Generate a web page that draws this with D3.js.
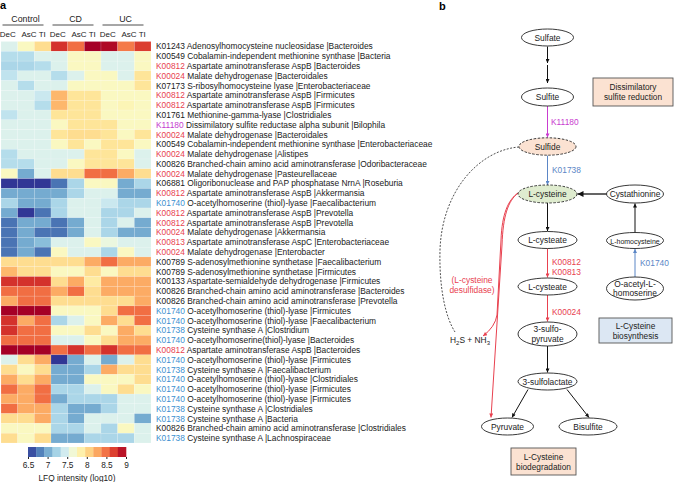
<!DOCTYPE html>
<html><head><meta charset="utf-8">
<script src="https://cdn.jsdelivr.net/npm/d3@7"></script>
<style>body{margin:0;background:#fff} svg{display:block;font-family:"Liberation Sans",Arial,Helvetica,sans-serif}</style>
</head><body><svg id="c" width="674" height="482"></svg>
<script>
// ---------- DATA ----------
const groups = ["Control", "CD", "UC"];
const sites = ["DeC", "AsC", "TI"];
const koIds = ["K01243","K00549","K00812","K00024","K07173","K00812","K00812","K01761","K11180","K00024",
 "K00549","K00024","K00826","K00024","K06881","K00812","K01740","K00812","K00812","K00024",
 "K00813","K00024","K00789","K00789","K00133","K00826","K00826","K01740","K01740","K01738",
 "K01740","K00812","K01740","K01738","K01740","K01740","K01740","K01738","K01738","K00826","K01738"];
const koNames = [
 "Adenosylhomocysteine nucleosidase |Bacteroides",
 "Cobalamin-independent methionine synthase |Bacteria",
 "Aspartate aminotransferase AspB |Bacteroides",
 "Malate dehydrogenase |Bacteroidales",
 "S-ribosylhomocysteine lyase |Enterobacteriaceae",
 "Aspartate aminotransferase AspB |Firmicutes",
 "Aspartate aminotransferase AspB |Firmicutes",
 "Methionine-gamma-lyase |Clostridiales",
 "Dissimilatory sulfite reductase alpha subunit |Bilophila",
 "Malate dehydrogenase |Bacteroidales",
 "Cobalamin-independent methionine synthase |Enterobacteriaceae",
 "Malate dehydrogenase |Alistipes",
 "Branched-chain amino acid aminotransferase |Odoribacteraceae",
 "Malate dehydrogenase |Pasteurellaceae",
 "Oligoribonuclease and PAP phosphatase NrnA |Roseburia",
 "Aspartate aminotransferase AspB |Akkermansia",
 "O-acetylhomoserine (thiol)-lyase |Faecalibacterium",
 "Aspartate aminotransferase AspB |Prevotella",
 "Aspartate aminotransferase AspB |Prevotella",
 "Malate dehydrogenase |Akkermansia",
 "Aspartate aminotransferase AspC |Enterobacteriaceae",
 "Malate dehydrogenase |Enterobacter",
 "S-adenosylmethionine synthetase |Faecalibacterium",
 "S-adenosylmethionine synthetase |Firmicutes",
 "Aspartate-semialdehyde dehydrogenase |Firmicutes",
 "Branched-chain amino acid aminotransferase |Bacteroides",
 "Branched-chain amino acid aminotransferase |Prevotella",
 "O-acetylhomoserine (thiol)-lyase |Firmicutes",
 "O-acetylhomoserine (thiol)-lyase |Faecalibacterium",
 "Cysteine synthase A |Clostridium",
 "O-acetylhomoserine(thiol)-lyase |Bacteroides",
 "Aspartate aminotransferase AspB |Bacteroides",
 "O-acetylhomoserine (thiol)-lyase |Firmicutes",
 "Cysteine synthase A |Faecalibacterium",
 "O-acetylhomoserine (thiol)-lyase |Clostridiales",
 "O-acetylhomoserine (thiol)-lyase |Firmicutes",
 "O-acetylhomoserine (thiol)-lyase |Firmicutes",
 "Cysteine synthase A |Clostridiales",
 "Cysteine synthase A |Bacteria",
 "Branched-chain amino acid aminotransferase |Clostridiales",
 "Cysteine synthase A |Lachnospiraceae"];
// pathway class of each KO: other / deg (L-cysteine degradation) / syn (biosynthesis) / dsr (sulfite reduction)
const koClass = ["other","other","deg","deg","other","deg","deg","other","dsr","deg",
 "other","deg","other","deg","other","deg","syn","deg","deg","deg",
 "deg","deg","other","other","other","other","other","syn","syn","syn",
 "syn","deg","syn","syn","syn","syn","syn","syn","syn","other","syn"];
// LFQ intensity (log10), columns: Control DeC AsC TI | CD DeC AsC TI | UC DeC AsC TI
const lfq = [
 [7.5,7.75,8.0,8.75,8.5,9.0,8.95,8.45,8.7],
 [7.3,7.3,7.5,7.5,7.75,7.75,7.5,7.5,7.75],
 [7.25,7.25,7.3,7.5,7.75,7.75,7.5,7.5,7.75],
 [7.35,7.5,7.5,7.3,7.5,7.75,7.75,7.5,7.95],
 [7.5,7.3,7.5,7.5,7.75,7.75,7.75,7.75,7.95],
 [7.5,7.5,7.4,8.2,7.95,7.95,7.75,7.75,7.75],
 [7.5,7.5,7.3,8.2,7.95,7.95,7.75,7.8,7.75],
 [7.35,7.5,7.5,7.95,7.95,7.95,7.75,7.75,7.75],
 [7.5,7.5,7.5,7.75,7.95,7.95,7.95,7.75,7.75],
 [7.5,7.5,7.5,7.95,8.0,8.0,7.95,7.75,7.95],
 [7.5,7.5,7.5,7.75,7.95,7.75,7.95,7.95,7.75],
 [7.3,7.5,7.5,7.5,7.5,7.95,7.95,7.75,7.5],
 [7.3,7.3,7.5,7.5,7.75,7.95,7.95,7.95,7.5],
 [7.75,7.0,7.5,8.0,8.0,8.5,8.5,8.25,8.0],
 [6.5,6.5,6.5,6.75,7.25,7.75,7.75,7.0,7.25],
 [7.0,7.0,7.0,7.0,7.25,7.5,7.5,7.0,7.0],
 [7.25,7.0,7.0,7.25,7.5,7.5,7.4,7.25,7.25],
 [7.0,6.5,6.75,7.25,7.5,7.5,7.25,7.25,7.5],
 [6.75,7.0,7.0,6.75,7.0,7.5,7.25,7.5,7.0],
 [6.75,7.0,6.75,6.75,7.0,7.5,7.25,7.0,7.0],
 [6.75,7.0,7.1,7.5,7.5,7.75,7.6,7.5,7.5],
 [6.75,7.0,6.75,7.75,7.5,7.5,7.25,7.75,7.5],
 [8.0,8.0,8.0,8.0,8.0,8.25,8.5,8.25,8.25],
 [8.2,8.0,8.0,7.75,7.75,8.0,7.75,8.0,8.0],
 [8.75,8.75,8.75,8.0,8.25,7.9,8.25,8.25,8.25],
 [8.5,8.5,8.5,8.25,8.5,8.0,8.25,8.25,8.25],
 [8.25,8.5,8.5,8.0,8.0,8.0,8.0,8.0,8.25],
 [9.0,9.0,9.0,7.75,7.75,7.75,8.0,8.5,8.5],
 [8.75,8.25,8.5,7.25,7.5,7.75,8.25,8.0,8.5],
 [8.75,8.5,8.5,7.75,7.75,8.0,7.75,8.25,8.0],
 [8.5,8.5,8.5,7.5,7.5,7.75,8.0,8.25,8.25],
 [9.0,9.0,9.0,8.5,8.75,8.5,8.75,8.5,8.5],
 [7.5,8.0,8.25,6.5,7.0,7.5,7.0,7.5,8.0],
 [8.0,7.75,8.0,7.0,7.0,7.25,8.25,8.0,8.0],
 [8.25,8.0,8.25,7.0,7.0,7.75,7.75,7.75,8.0],
 [8.5,8.25,8.5,7.25,7.25,7.5,7.75,8.0,7.75],
 [8.25,8.25,8.5,7.0,7.25,7.25,7.25,7.5,7.5],
 [8.5,8.25,8.25,7.25,7.0,7.0,7.25,7.5,7.5],
 [8.0,8.0,8.25,7.25,7.0,7.5,7.5,7.5,7.0],
 [7.75,7.75,7.75,7.25,7.25,7.5,7.25,7.75,7.5],
 [8.0,7.75,8.0,7.0,7.0,7.25,7.25,7.25,7.5]];
const legendTicks = [6.5, 7, 7.5, 8, 8.5, 9];
const legendTitle = "LFQ intensity (log10)";

// ---------- STYLE ----------
const classColor = {other:"#1a1a1a", deg:"#e8414f", syn:"#3b8fd0", dsr:"#c53ccf"};
const svg = d3.select("#c");
const color = d3.scaleSequential(t => d3.interpolateRdYlBu(1 - t)).domain([6.5, 9]).clamp(true);

// ---------- PANEL A ----------
svg.append("text").attr("x",0).attr("y",9).attr("font-size",11).attr("font-weight","bold").text("a");
const cols = groups.flatMap(g => sites.map(s => g + "|" + s));
const x = d3.scaleBand().domain(cols).range([1, 151]);
const rows = d3.range(koIds.length);
const y = d3.scaleBand().domain(rows).range([41.5, 443]);

const cells = [];
lfq.forEach((r, i) => r.forEach((v, j) => cells.push({i, c: cols[j], v})));
svg.append("g").selectAll("rect").data(cells).join("rect")
  .attr("x", d => x(d.c)).attr("y", d => y(d.i))
  .attr("width", x.bandwidth()).attr("height", y.bandwidth())
  .attr("fill", d => color(d.v))
  .attr("stroke", "#ffffff").attr("stroke-opacity", 0.35).attr("stroke-width", 0.4);

// group headers
groups.forEach(g => {
  const x0 = x(g + "|" + sites[0]), x1 = x(g + "|" + sites[2]) + x.bandwidth();
  svg.append("text").attr("x", (x0 + x1) / 2 - 0.5).attr("y", 21.5).attr("text-anchor","middle")
    .attr("font-size", 8.8).attr("fill","#222").text(g);
  svg.append("line").attr("x1", x0 + 1.5).attr("x2", x1 - 7.5).attr("y1", 25).attr("y2", 25)
    .attr("stroke","#222").attr("stroke-width",0.8);
});
const siteShift = {DeC:-1.5, AsC:3, TI:-0.4};
svg.append("g").selectAll("text").data(cols).join("text")
  .attr("x", d => x(d) + x.bandwidth() / 2 + siteShift[d.split("|")[1]]).attr("y", 36.5).attr("text-anchor","middle")
  .attr("font-size", 8).attr("fill","#222").text(d => d.split("|")[1]);

// row labels
const lab = svg.append("g").selectAll("text").data(rows).join("text")
  .attr("x", 156).attr("y", d => y(d) + y.bandwidth() / 2 + 3).attr("font-size", 8.4);
lab.append("tspan").attr("fill", d => classColor[koClass[d]]).text(d => koIds[d]);
lab.append("tspan").attr("fill", "#1a1a1a").text(d => " " + koNames[d]);

// color legend
const lx = d3.scaleLinear().domain([6.5, 9]).range([28, 126]);
const nb = 12, step = (9 - 6.5) / nb;
svg.append("g").selectAll("rect").data(d3.range(nb)).join("rect")
  .attr("x", k => lx(6.5 + k * step)).attr("y", 447)
  .attr("width", lx(6.5 + step) - lx(6.5) + 0.3).attr("height", 10)
  .attr("fill", k => color(6.5 + (k + 0.5) * step));
const ax = svg.append("g").attr("transform","translate(0,457)")
  .call(d3.axisBottom(lx).tickValues(legendTicks).tickSize(2).tickFormat(d3.format("")));
ax.select(".domain").remove();
ax.selectAll("line").attr("stroke","#222");
ax.selectAll("text").attr("font-size", 8.3).attr("fill","#222").attr("dy","0.75em")
  .attr("font-family",'"Liberation Sans",Arial,sans-serif');
svg.append("text").attr("x", 77).attr("y", 480.5).attr("text-anchor","middle")
  .attr("font-size", 8.3).attr("fill","#222").text(legendTitle);

// ---------- PANEL B ----------
svg.append("text").attr("x",439).attr("y",10).attr("font-size",11).attr("font-weight","bold").text("b");
const defs = svg.append("defs");
function mk(id, col, w, h) {
  defs.append("marker").attr("id", id).attr("viewBox","0 0 10 10").attr("refX",10).attr("refY",5)
    .attr("markerWidth", w).attr("markerHeight", h).attr("markerUnits","userSpaceOnUse").attr("orient","auto")
    .append("path").attr("d","M0,0L10,5L0,10z").attr("fill", col);
}
const cBlack = "#111", cRed = "#e8414f", cBlue = "#5b86c6", cMag = "#c93ccf";
mk("ab", cBlack, 5, 4); mk("abB", cBlack, 7, 6); mk("ar", cRed, 5, 4); mk("abl", cBlue, 5, 4); mk("am", cMag, 5, 4);

// boxes
const boxes = [
  {x:593, y:78, w:80, h:28, fill:"#fbe2d2", lines:["Dissimilatory","sulfite reduction"]},
  {x:599, y:318, w:73, h:25, fill:"#dce7f3", lines:["L-Cysteine","biosynthesis"]},
  {x:511, y:448, w:65, h:27, fill:"#fbe2d2", lines:["L-Cysteine","biodegradation"]}];
boxes.forEach(b => {
  svg.append("rect").attr("x", b.x).attr("y", b.y).attr("width", b.w).attr("height", b.h)
    .attr("fill", b.fill).attr("stroke","#555").attr("stroke-width",0.9);
  b.lines.forEach((t, k) => svg.append("text").attr("x", b.x + b.w / 2)
    .attr("y", b.y + b.h / 2 + (k - (b.lines.length - 1) / 2) * 10 + 3)
    .attr("text-anchor","middle").attr("font-size", 8.3).attr("fill","#222").text(t));
});

// links
const links = [
  {d:"M547.5,46.5 L547.5,63", m:"ab", c:cBlack},
  {d:"M547.5,65 L547.5,83", m:"ab", c:cBlack},
  {d:"M547.5,106 L547.5,137.5", m:"am", c:cMag},
  {d:"M547.5,155.5 L547.5,185", m:"abl", c:cBlue},
  {d:"M607,194 L577.5,194", m:"abB", c:cBlack, w:1.3},
  {d:"M635,232.5 L635,203.5", m:"ab", c:cBlack},
  {d:"M547.5,203 L547.5,231", m:"ab", c:cBlack},
  {d:"M547.5,248.5 L547.5,277.5", m:"ar", c:cRed},
  {d:"M635,277 L635,249", m:"abl", c:cBlue},
  {d:"M547.5,295 L547.5,321.5", m:"ar", c:cRed},
  {d:"M547.5,346 L547.5,372.5", m:"ab", c:cBlack},
  {d:"M528,389.5 L512,417.5", m:"ab", c:cBlack},
  {d:"M567,389.5 L589,417.5", m:"ab", c:cBlack},
  {d:"M518,193 C508,200 502,214 501,240 L497,315 Q495,327 483,336", m:"ar", c:cRed},
  {d:"M518,193 C508,201 503,216 502,245 L491,417.5", m:"ar", c:cRed}];
links.forEach(l => svg.append("path").attr("d", l.d).attr("fill","none").attr("stroke", l.c)
  .attr("stroke-width", l.w || 1).attr("marker-end", `url(#${l.m})`));
svg.append("path").attr("d","M519,147 C480,150 442,190 440,250 C439,290 446,318 455,332")
  .attr("fill","none").attr("stroke","#222").attr("stroke-width",0.8).attr("stroke-dasharray","2,1.5");

// nodes
const nodes = [
  {cx:547.5, cy:37.5, rx:26, ry:8.5, lines:["Sulfate"]},
  {cx:547.5, cy:97, rx:26, ry:9, lines:["Sulfite"]},
  {cx:547.5, cy:146.5, rx:28.5, ry:8.7, lines:["Sulfide"], fill:"#fbe2d2", dash:true},
  {cx:547.5, cy:194, rx:29.5, ry:9, lines:["L-cysteine"], fill:"#dfeccf", dash:true},
  {cx:635, cy:194, rx:28.5, ry:9, lines:["Cystathionine"]},
  {cx:547.5, cy:240, rx:29.5, ry:8.5, lines:["L-cysteate"]},
  {cx:635, cy:240.5, rx:28.5, ry:8, lines:["L-homocysteine"], fs:7},
  {cx:547.5, cy:286.5, rx:29.5, ry:8.5, lines:["L-cysteate"]},
  {cx:635, cy:288.5, rx:28.5, ry:11.5, lines:["O-acetyl-L-","homoserine"]},
  {cx:547.5, cy:334, rx:29.5, ry:12, lines:["3-sulfo-","pyruvate"]},
  {cx:547.5, cy:381.5, rx:29.5, ry:8.5, lines:["3-sulfolactate"]},
  {cx:507.5, cy:426.5, rx:26, ry:8.5, lines:["Pyruvate"]},
  {cx:588, cy:426.5, rx:29, ry:8.5, lines:["Bisulfite"]}];
nodes.forEach(n => {
  svg.append("ellipse").attr("cx", n.cx).attr("cy", n.cy).attr("rx", n.rx).attr("ry", n.ry)
    .attr("fill", n.fill || "#fff").attr("stroke","#222").attr("stroke-width",0.9)
    .attr("stroke-dasharray", n.dash ? "2.5,1.5" : null);
  n.lines.forEach((t, k) => svg.append("text").attr("x", n.cx)
    .attr("y", n.cy + (k - (n.lines.length - 1) / 2) * 9.5 + 3)
    .attr("text-anchor","middle").attr("font-size", n.fs || 8.4).attr("fill","#222").text(t));
});

// enzyme labels
const enz = [
  {x:551, y:125, t:"K11180", c:cMag},
  {x:552, y:173, t:"K01738", c:cBlue},
  {x:552, y:265, t:"K00812", c:cRed},
  {x:552, y:275, t:"K00813", c:cRed},
  {x:552, y:315, t:"K00024", c:cRed},
  {x:640, y:266, t:"K01740", c:cBlue}];
enz.forEach(e => svg.append("text").attr("x", e.x).attr("y", e.y).attr("font-size", 8.4)
  .attr("fill", e.c).text(e.t));
["(L-cysteine","desulfidase)"].forEach((t, k) => svg.append("text").attr("x", 472).attr("y", 283 + k * 10)
  .attr("text-anchor","middle").attr("font-size", 8.4).attr("fill", cRed).text(t));
const h2s = svg.append("text").attr("x", 450).attr("y", 342.5).attr("font-size", 8.4).attr("fill","#222");
h2s.append("tspan").text("H");
h2s.append("tspan").attr("font-size",6).attr("dy",2).text("2");
h2s.append("tspan").attr("dy",-2).text("S + NH");
h2s.append("tspan").attr("font-size",6).attr("dy",2).text("3");
</script></body></html>
